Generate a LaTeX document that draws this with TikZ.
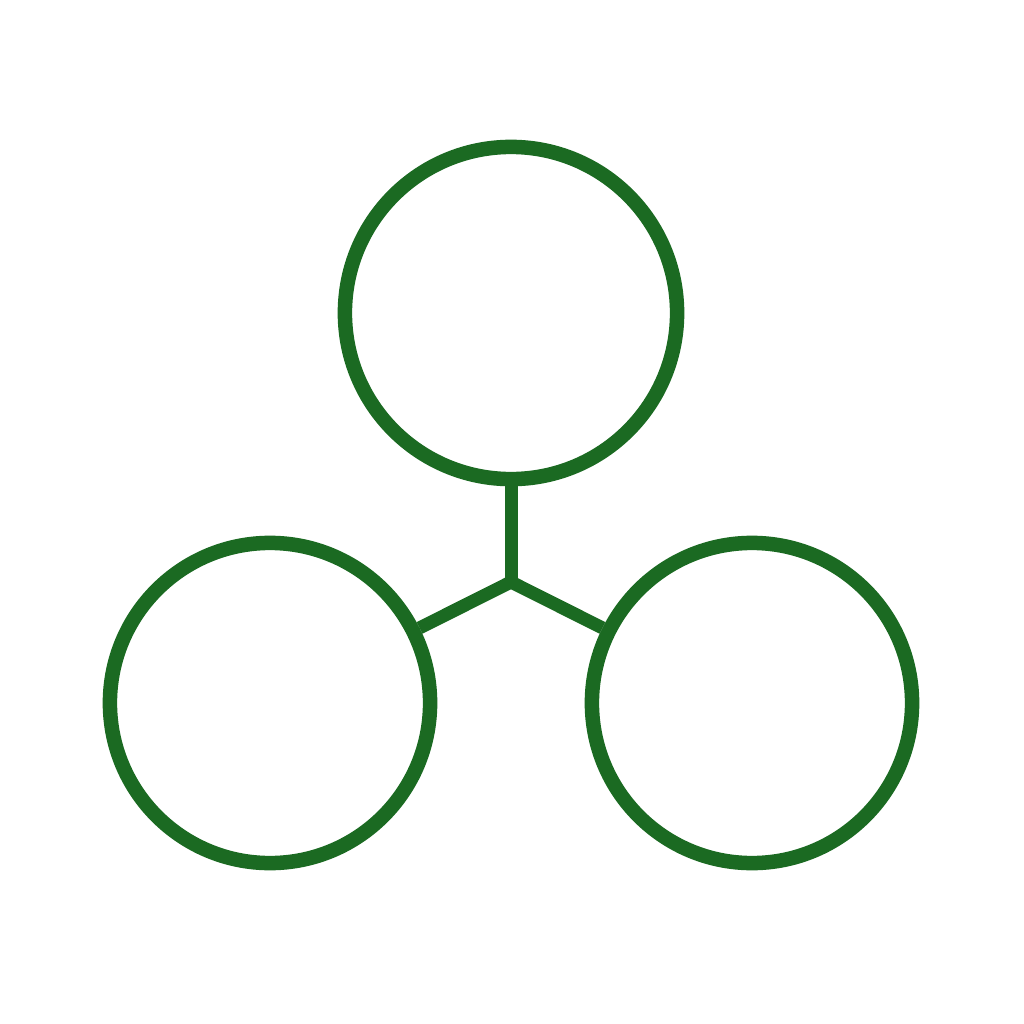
\documentclass[tikz,border=0pt]{standalone}
\begin{document}
\begin{tikzpicture}[x=0.01cm,y=-0.01cm]
\definecolor{dgreen}{HTML}{1B6A22}
\tikzset{ring/.style={circle,draw=dgreen,line width=0.145cm,inner sep=0pt},
link/.style={draw=dgreen,line width=0.13cm}}
\useasboundingbox (0,0) rectangle (1024,1024);
\node[ring,minimum size=3.32cm] (top) at (511,313) {};
\node[ring,minimum size=3.2cm] (left) at (270,703) {};
\node[ring,minimum size=3.2cm] (right) at (752,703) {};
\coordinate (j) at (511,582);
\draw[link] (top.south) -- (j);
\draw[link] (j) -- (left);
\draw[link] (j) -- (right);
\end{tikzpicture}
\end{document}
